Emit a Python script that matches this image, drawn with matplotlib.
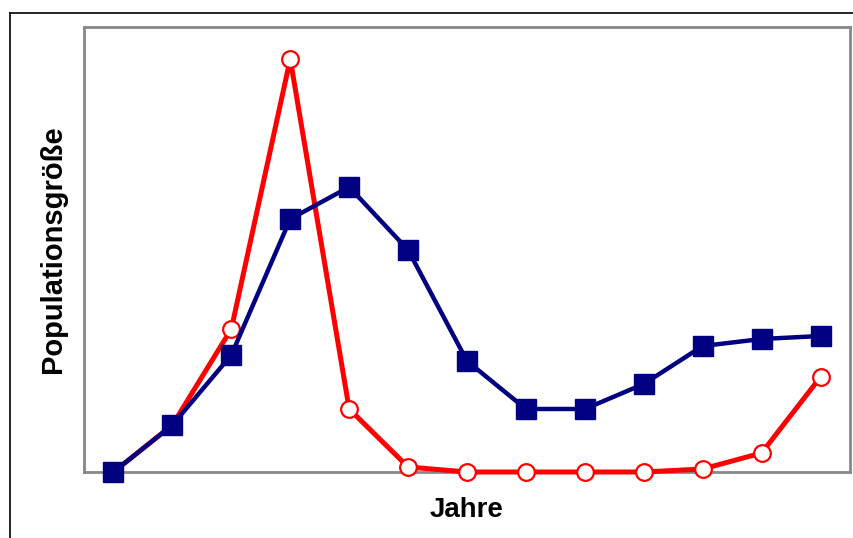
import matplotlib
matplotlib.use("Agg")
import matplotlib.pyplot as plt
from matplotlib.lines import Line2D

# values (arbitrary units)
jahre = list(range(13))
pop_blau = [0, 47, 117, 253, 285, 222, 111, 63, 63, 88, 126, 133, 136]
pop_rot = [0, 47, 143, 413, 63, 5, 0, 0, 0, 0, 3, 19, 95]

plt.rcParams['font.family'] = ['Liberation Sans', 'DejaVu Sans']

fig = plt.figure(figsize=(8.54, 5.38), dpi=100)
ax = fig.add_axes([0.0984, 0.1227, 0.8969, 0.8271])

ax.plot(jahre, pop_rot, color="#ff0000", lw=3.6, marker="o", ms=12,
        mfc="white", mec="#ff0000", mew=1.6, zorder=3, clip_on=False)
ax.plot(jahre, pop_blau, color="#000080", lw=3.2, marker="s", ms=14,
        mfc="#000080", mec="#000080", zorder=4, clip_on=False)

ax.set_xlim(-0.5, 12.5)
ax.set_ylim(0, 445)
ax.set_xticks([])
ax.set_yticks([])
for s in ax.spines.values():
    s.set_color("#888888")
    s.set_linewidth(2)

ax.set_xlabel("Jahre", fontsize=20, fontweight="bold", labelpad=18)
ax.set_ylabel("Populationsgröße", fontsize=21, fontweight="bold", labelpad=12)

# thin black frame lines at top and left of the figure
fig.add_artist(Line2D([0.0117, 1.0], [0.9758, 0.9758], color="black", lw=1.2))
fig.add_artist(Line2D([0.0117, 0.0117], [0.0, 0.9758], color="black", lw=1.2))

fig.savefig("out.png", dpi=100)
